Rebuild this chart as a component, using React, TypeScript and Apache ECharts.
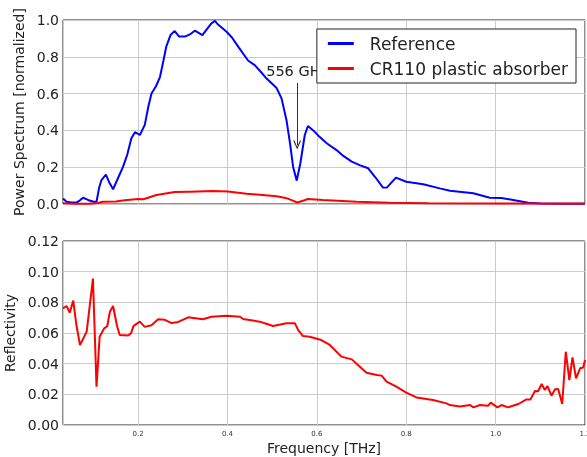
import React, { useEffect, useRef } from "react";
import * as echarts from "echarts";

const refFreq = [
  0.032, 0.04, 0.051, 0.062, 0.07, 0.077, 0.088, 0.1, 0.107, 0.113, 0.118, 0.128, 0.136, 0.144,
  0.155, 0.166, 0.176, 0.185, 0.193, 0.204, 0.215, 0.223, 0.23, 0.24, 0.249, 0.256, 0.263, 0.273,
  0.282, 0.292, 0.305, 0.318, 0.327, 0.344, 0.354, 0.364, 0.372, 0.379, 0.398, 0.41, 0.424, 0.446,
  0.461, 0.474, 0.487, 0.51, 0.521, 0.532, 0.54, 0.547, 0.555, 0.563, 0.573, 0.58, 0.592, 0.606,
  0.622, 0.644, 0.66, 0.678, 0.697, 0.715, 0.73, 0.748, 0.757, 0.777, 0.8, 0.838, 0.875, 0.898,
  0.95, 0.987, 1.013, 1.039, 1.073, 1.1, 1.15, 1.2,
];
const refPower = [
  0.03, 0.012, 0.008, 0.008, 0.02, 0.034, 0.022, 0.012, 0.012, 0.09, 0.13, 0.16, 0.115, 0.08,
  0.14, 0.2, 0.27, 0.357, 0.39, 0.375, 0.43, 0.53, 0.6, 0.64, 0.69, 0.77, 0.855, 0.92,
  0.94, 0.91, 0.91, 0.925, 0.942, 0.918, 0.95, 0.982, 0.995, 0.975, 0.936, 0.905, 0.855, 0.78,
  0.755, 0.72, 0.683, 0.63, 0.574, 0.457, 0.33, 0.2, 0.127, 0.22, 0.375, 0.424, 0.4, 0.365,
  0.33, 0.293, 0.26, 0.23, 0.21, 0.194, 0.148, 0.089, 0.09, 0.143, 0.121, 0.107, 0.085, 0.072,
  0.058, 0.034, 0.033, 0.022, 0.007, 0.003, 0.002, 0.002,
];

const absFreq = [
  0.032, 0.06, 0.09, 0.11, 0.121, 0.15, 0.17, 0.2, 0.212, 0.241, 0.282, 0.316, 0.368, 0.401,
  0.443, 0.51, 0.53, 0.545, 0.556, 0.569, 0.58, 0.614, 0.689, 0.763, 0.85, 1.0, 1.2,
];
const absPower = [
  0.004, 0.002, 0.002, 0.005, 0.012, 0.014, 0.02, 0.027, 0.026, 0.049, 0.065, 0.067, 0.07, 0.068,
  0.056, 0.042, 0.033, 0.02, 0.008, 0.018, 0.027, 0.022, 0.012, 0.007, 0.004, 0.003, 0.003,
];

const reflFreq = [
  0.032, 0.04, 0.047, 0.055, 0.062, 0.07, 0.085, 0.099, 0.107, 0.114, 0.124, 0.131, 0.137, 0.144,
  0.153, 0.159, 0.178, 0.184, 0.19, 0.204, 0.215, 0.23, 0.245, 0.26, 0.275, 0.29, 0.312, 0.345,
  0.364, 0.398, 0.428, 0.435, 0.472, 0.487, 0.502, 0.532, 0.551, 0.558, 0.569, 0.584, 0.61, 0.629,
  0.655, 0.678, 0.692, 0.711, 0.734, 0.745, 0.756, 0.778, 0.8, 0.823, 0.86, 0.89, 0.898, 0.92,
  0.943, 0.95, 0.965, 0.983, 0.989, 1.004, 1.013, 1.028, 1.051, 1.069, 1.078, 1.088, 1.095, 1.103,
  1.11, 1.116, 1.125, 1.133, 1.14, 1.149, 1.157, 1.165, 1.172, 1.18, 1.189, 1.196, 1.2,
];
const reflValue = [
  0.0761, 0.0776, 0.0733, 0.0811, 0.0652, 0.0522, 0.0609, 0.0955, 0.025, 0.0576, 0.063, 0.0644, 0.0739, 0.0776,
  0.0644, 0.0587, 0.0583, 0.0598, 0.0646, 0.0674, 0.064, 0.065, 0.0689, 0.0686, 0.0665, 0.0672, 0.0702, 0.069,
  0.0706, 0.0713, 0.0706, 0.0691, 0.0674, 0.066, 0.0646, 0.0663, 0.0663, 0.062, 0.058, 0.0576, 0.0554, 0.0522,
  0.0446, 0.0428, 0.0391, 0.0341, 0.0326, 0.0322, 0.0283, 0.025, 0.0211, 0.018, 0.0163, 0.0141, 0.013, 0.012,
  0.013, 0.0115, 0.013, 0.0125, 0.0146, 0.0115, 0.013, 0.0115, 0.0137, 0.0167, 0.0167, 0.0222, 0.022, 0.0267,
  0.0228, 0.0254, 0.0191, 0.0233, 0.0235, 0.0137, 0.0478, 0.0293, 0.0441, 0.0304, 0.037, 0.0375, 0.0424,
];

const legendNames = ["Reference", "CR110 plastic absorber"];
const annotationText = "556 GHz";
const annotationFreq = 0.556;
const annotationFrom = 0.658;
const annotationTo = 0.32;

const FONT = "DejaVu Sans";

export default function App() {
  const ref = useRef<HTMLDivElement>(null);
  useEffect(() => {
    const chart = echarts.init(ref.current!, null, { renderer: "svg" });
    const zip = (xs: number[], ys: number[]) => xs.map((x, i) => [x, ys[i]]);
    const grid = { color: "#cbcbcb", width: 1 };
    const xBase = {
      type: "value",
      min: 0.032,
      max: 1.2,
      splitNumber: 6,
      axisLine: { show: false },
      axisTick: { show: false },
      splitLine: { show: true, lineStyle: grid },
    };
    const option: any = {
      animation: false,
      textStyle: { fontFamily: FONT },
      grid: [
        { left: 63, right: 2, top: 20, height: 184, show: true, borderColor: "#222", borderWidth: 1, outerBoundsMode: "none", containLabel: false },
        { left: 63, right: 2, top: 241, height: 184, show: true, borderColor: "#222", borderWidth: 1, outerBoundsMode: "none", containLabel: false },
      ],
      xAxis: [
        { ...xBase, gridIndex: 0, axisLabel: { show: false } },
        {
          ...xBase,
          gridIndex: 1,
          name: "Frequency [THz]",
          nameLocation: "middle",
          nameGap: 16,
          nameTextStyle: { fontSize: 14, color: "#222", fontFamily: FONT },
          axisLabel: {
            show: true,
            showMinLabel: false,
            fontSize: 7,
            color: "#333",
            margin: 5,
            fontFamily: FONT,
            formatter: (v: number) => v.toFixed(1),
          },
        },
      ],
      yAxis: [
        {
          type: "value",
          gridIndex: 0,
          min: 0,
          max: 1,
          interval: 0.2,
          name: "Power Spectrum [normalized]",
          nameLocation: "middle",
          nameGap: 33,
          nameTextStyle: { fontSize: 14, color: "#222", fontFamily: FONT },
          axisLine: { show: false },
          axisTick: { show: false },
          splitLine: { show: true, lineStyle: grid },
          axisLabel: { fontSize: 14, color: "#222", margin: 4, fontFamily: FONT, formatter: (v: number) => v.toFixed(1) },
        },
        {
          type: "value",
          gridIndex: 1,
          min: 0,
          max: 0.12,
          interval: 0.02,
          name: "Reflectivity",
          nameLocation: "middle",
          nameGap: 42,
          nameTextStyle: { fontSize: 14, color: "#222", fontFamily: FONT },
          axisLine: { show: false },
          axisTick: { show: false },
          splitLine: { show: true, lineStyle: grid },
          axisLabel: { fontSize: 14, color: "#222", margin: 4, fontFamily: FONT, formatter: (v: number) => v.toFixed(2) },
        },
      ],
      legend: {
        data: legendNames.map((n) => ({ name: n })),
        orient: "vertical",
        right: 11,
        top: 29,
        z: 10,
        icon: "rect",
        itemWidth: 26,
        itemHeight: 3,
        itemGap: 8,
        padding: [6, 8, 6, 11],
        backgroundColor: "#fff",
        borderColor: "#222",
        borderWidth: 1,
        borderRadius: 0,
        selectedMode: false,
        textStyle: { fontSize: 17, color: "#222", fontFamily: FONT, padding: [0, 0, 0, 11] },
      },
      series: [
        {
          name: legendNames[0],
          type: "line",
          xAxisIndex: 0,
          yAxisIndex: 0,
          data: zip(refFreq, refPower),
          symbol: "none",
          color: "#0000ff",
          lineStyle: { color: "#0000ff", width: 2 },
          markLine: {
            silent: true,
            symbol: ["none", "path://M0,10L5,0L10,10L8.4,10L5,3.2L1.6,10Z"],
            symbolSize: [8, 9],
            lineStyle: { color: "#333", width: 1, type: "solid" },
            label: {
              show: true,
              position: "start",
              formatter: annotationText,
              fontSize: 14.5,
              color: "#222",
              fontFamily: FONT,
              distance: 4,
            },
            data: [
              [
                { coord: [annotationFreq, annotationFrom] },
                { coord: [annotationFreq, annotationTo] },
              ],
            ],
          },
        },
        {
          name: legendNames[1],
          type: "line",
          xAxisIndex: 0,
          yAxisIndex: 0,
          data: zip(absFreq, absPower),
          symbol: "none",
          color: "#ff0000",
          lineStyle: { color: "#ff0000", width: 2 },
        },
        {
          name: "Reflectivity",
          type: "line",
          xAxisIndex: 1,
          yAxisIndex: 1,
          data: zip(reflFreq, reflValue),
          symbol: "none",
          color: "#ff0000",
          lineStyle: { color: "#ff0000", width: 2 },
        },
      ],
    };
    chart.setOption(option);
    return () => chart.dispose();
  }, []);
  return <div ref={ref} style={{ position: "fixed", left: 0, top: 0, width: 587, height: 457 }} />;
}
